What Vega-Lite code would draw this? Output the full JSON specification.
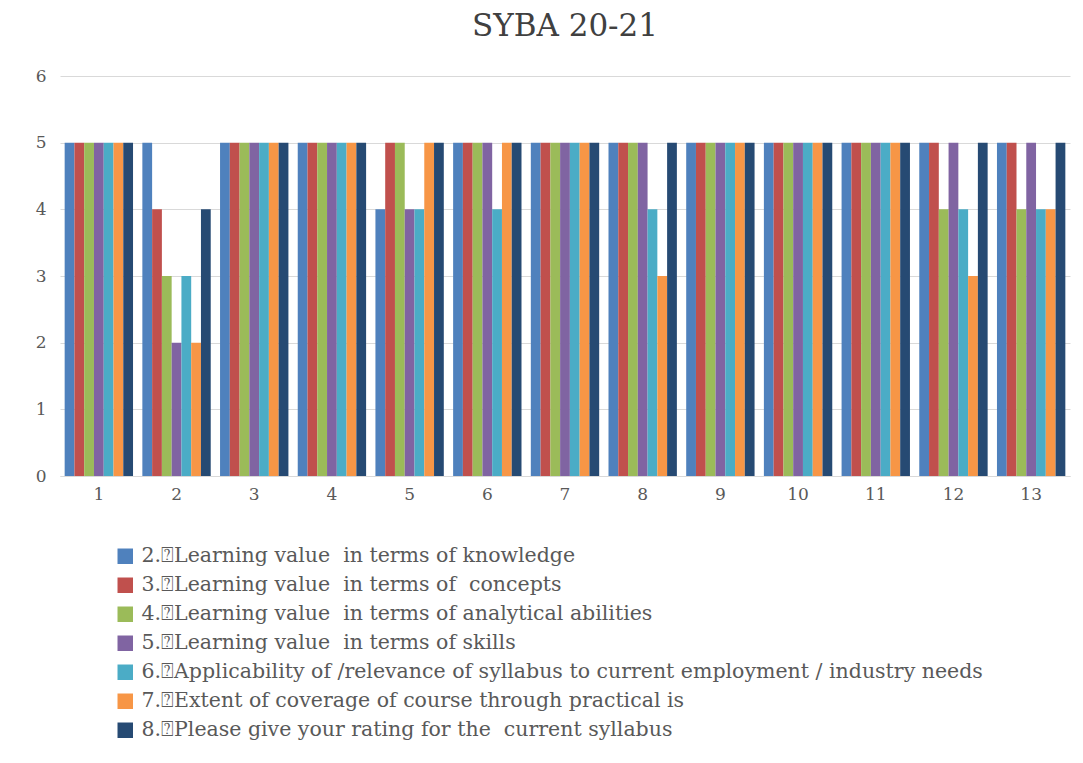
{
  "$schema": "https://vega.github.io/schema/vega-lite/v6.json",
  "width": 1010,
  "height": 400,
  "autosize": "none",
  "padding": {"left": 60, "top": 76, "right": 13, "bottom": 287},
  "background": "white",
  "title": {"text": "SYBA 20-21", "font": "DejaVu Serif", "fontSize": 31, "fontWeight": "normal", "color": "#404040", "offset": 24, "anchor": "middle"},
  "data": {"values": [
    {"g": 1, "a": 5, "b": 5, "c": 5, "d": 5, "e": 5, "f": 5, "h": 5},
    {"g": 2, "a": 5, "b": 4, "c": 3, "d": 2, "e": 3, "f": 2, "h": 4},
    {"g": 3, "a": 5, "b": 5, "c": 5, "d": 5, "e": 5, "f": 5, "h": 5},
    {"g": 4, "a": 5, "b": 5, "c": 5, "d": 5, "e": 5, "f": 5, "h": 5},
    {"g": 5, "a": 4, "b": 5, "c": 5, "d": 4, "e": 4, "f": 5, "h": 5},
    {"g": 6, "a": 5, "b": 5, "c": 5, "d": 5, "e": 4, "f": 5, "h": 5},
    {"g": 7, "a": 5, "b": 5, "c": 5, "d": 5, "e": 5, "f": 5, "h": 5},
    {"g": 8, "a": 5, "b": 5, "c": 5, "d": 5, "e": 4, "f": 3, "h": 5},
    {"g": 9, "a": 5, "b": 5, "c": 5, "d": 5, "e": 5, "f": 5, "h": 5},
    {"g": 10, "a": 5, "b": 5, "c": 5, "d": 5, "e": 5, "f": 5, "h": 5},
    {"g": 11, "a": 5, "b": 5, "c": 5, "d": 5, "e": 5, "f": 5, "h": 5},
    {"g": 12, "a": 5, "b": 5, "c": 4, "d": 5, "e": 4, "f": 3, "h": 5},
    {"g": 13, "a": 5, "b": 5, "c": 4, "d": 5, "e": 4, "f": 4, "h": 5}
  ]},
  "transform": [
    {"fold": ["a", "b", "c", "d", "e", "f", "h"], "as": ["series", "value"]}
  ],
  "mark": {"type": "bar"},
  "encoding": {
    "x": {"field": "g", "type": "ordinal", "scale": {"paddingInner": 0.12, "paddingOuter": 0.06},
      "axis": {"title": null, "labelAngle": 0, "labelFont": "DejaVu Serif", "labelFontSize": 17, "labelColor": "#595959", "labelPadding": 10, "ticks": false, "domainColor": "#D9D9D9"}},
    "xOffset": {"field": "series", "type": "nominal", "scale": {"domain": ["a", "b", "c", "d", "e", "f", "h"], "paddingInner": 0, "paddingOuter": 0}},
    "y": {"field": "value", "type": "quantitative", "scale": {"domain": [0, 6]},
      "axis": {"title": null, "values": [0, 1, 2, 3, 4, 5, 6], "labelOverlap": false, "domain": false, "ticks": false, "labelFont": "DejaVu Serif", "labelFontSize": 17, "labelColor": "#595959", "labelPadding": 14, "gridColor": "#D9D9D9"}},
    "color": {"field": "series", "type": "nominal",
      "scale": {"domain": ["a", "b", "c", "d", "e", "f", "h"], "range": ["#4F81BD", "#C0504D", "#9BBB59", "#8064A2", "#4BACC6", "#F79646", "#264A73"]},
      "legend": {"title": null, "orient": "none", "legendX": 55, "legendY": 470, "symbolType": "square", "symbolSize": 240, "symbolStrokeWidth": 0, "symbolOpacity": 1, "rowPadding": 8, "labelFont": "DejaVu Serif", "labelFontSize": 20.5, "labelColor": "#595959", "labelLimit": 1000, "labelOffset": 6,
        "labelExpr": "{'a': '2.\u2370Learning value\u00a0 in terms of knowledge', 'b': '3.\u2370Learning value\u00a0 in terms of\u00a0 concepts', 'c': '4.\u2370Learning value\u00a0 in terms of analytical abilities', 'd': '5.\u2370Learning value\u00a0 in terms of skills', 'e': '6.\u2370Applicability of /relevance of syllabus to current employment / industry needs', 'f': '7.\u2370Extent of coverage of course through practical is', 'h': '8.\u2370Please give your rating for the\u00a0 current syllabus'}[datum.value]"}}
  },
  "config": {"view": {"stroke": null}}
}
